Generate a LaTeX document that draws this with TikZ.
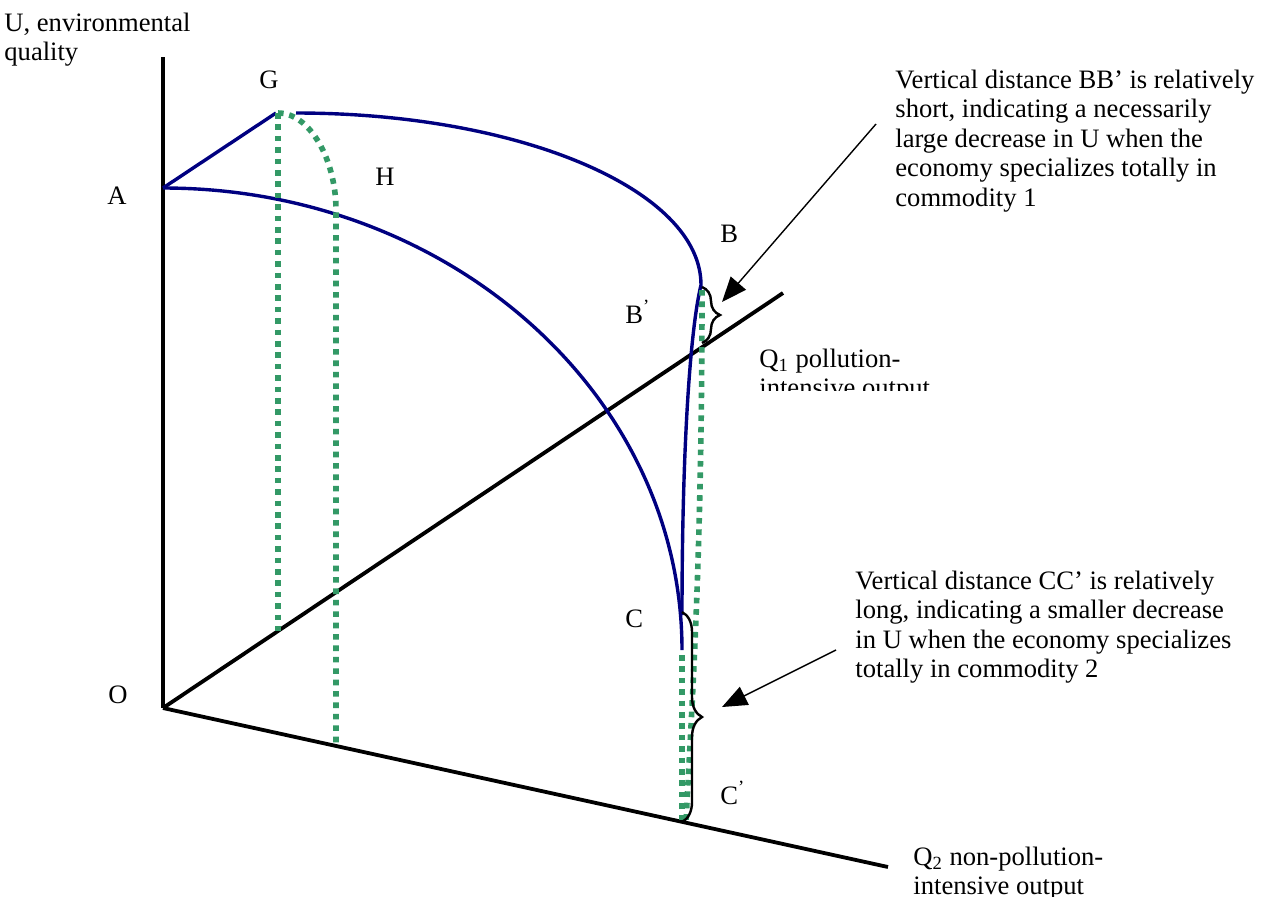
\documentclass[tikz,border=0pt]{standalone}
\usepackage{fontspec}
\setmainfont{Liberation Serif}
\usetikzlibrary{arrows.meta,decorations.pathreplacing}
\definecolor{ecInk}{HTML}{000000}
\definecolor{ecNavy}{HTML}{000080}
\definecolor{ecGreen}{HTML}{339966}
\tikzset{
  ec axis/.style={draw=ecInk, line width=1.9pt},
  ec frontier/.style={draw=ecNavy, line width=1.7pt},
  ec trace/.style={
    draw=ecGreen,
    line width=2.8pt,
    dash pattern=on 2.8pt off 2.9pt
  },
  ec brace/.style={
    draw=ecInk,
    line width=1.2pt,
    decorate,
    decoration={brace, amplitude=#1}
  },
  ec pointer/.style={
    draw=ecInk,
    line width=.7pt,
    -{Triangle[length=12.5pt,width=10pt]}
  },
  ec label/.style={font=\fontsize{13.3}{14.8}\selectfont, text=ecInk, inner sep=0pt, anchor=base west},
  ec note/.style={ec label, align=left}
}

\begin{document}
\begin{tikzpicture}[x=.5pt,y=-.5pt]
  \useasboundingbox (0,0) rectangle (1274,896);

  % axes
  \coordinate (O) at (163,708);
  \coordinate (Utop) at (163,57);
  \coordinate (Q1end) at (783,293);
  \coordinate (Q2end) at (888,867);
  \draw[ec axis] (O) -- (Utop);
  \draw[ec axis] (O) -- (Q1end);
  \draw[ec axis] (O) -- (Q2end);

  % frontiers
  \coordinate (A) at (163,188);
  \coordinate (G) at (276,113);
  \coordinate (Gr) at (296,113);
  \coordinate (B) at (701,285);
  \coordinate (C) at (682,615);
  \coordinate (Cend) at (682,650);
  \draw[ec frontier] (A) -- (G);
  \draw[ec frontier] (A) .. controls (449.6,188) and (682,394.8) .. (Cend);
  \draw[ec frontier] (Gr) .. controls (519.7,113) and (701,190) .. (B)
    .. controls (690,330) and (682,450) .. (C);

  % dotted traces
  \coordinate (Gtop) at (278,113);
  \coordinate (Gfoot) at (278,631);
  \coordinate (Hbend) at (336,210);
  \coordinate (Hfoot) at (336,746);
  \coordinate (Btop) at (702,290);
  \coordinate (Bfoot) at (686,822);
  \coordinate (Ctop) at (682,655);
  \coordinate (Cfoot) at (682,822);
  \draw[ec trace] (Gtop) -- (Gfoot);
  \draw[ec trace] (Gtop) .. controls (310,113) and (336,160) .. (Hbend) -- (Hfoot);
  \draw[ec trace] (Btop) .. controls (702,560) and (692,700) .. (Bfoot);
  \draw[ec trace] (Ctop) -- (Cfoot);

  % braces and pointers
  \draw[ec brace=9pt] (702,287) -- (702,343);
  \draw[ec brace=10pt] (682,612) -- (Cfoot);
  \coordinate (bbTail) at (876,124);
  \coordinate (bbTip) at (722,302);
  \coordinate (ccTail) at (836,650);
  \coordinate (ccTip) at (722,707);
  \draw[ec pointer] (bbTail) -- (bbTip);
  \draw[ec pointer] (ccTail) -- (ccTip);

  % labels (multi-line notes sit on their last baseline)
  \node[ec note] (Ulab) at (4,60.6) {U, environmental\\quality};
  \node[ec label] (Alab) at (107,204) {A};
  \node[ec label] (Glab) at (259,88) {G};
  \node[ec label] (Hlab) at (375,185) {H};
  \node[ec label] (Blab) at (720,242) {B};
  \node[ec label] (Bplab) at (625,323) {B\textsuperscript{’}};
  \node[ec label] (Clab) at (625,627) {C};
  \node[ec label] (Cplab) at (720,804) {C\textsuperscript{’}};
  \node[ec label] (Olab) at (108,703) {O};
  \begin{scope}
    \clip (740,330) rectangle (1000,390);
    \node[ec note] (Q1lab) at (759,396.6) {Q\textsubscript{1} pollution-\\intensive output};
  \end{scope}
  \node[ec note] (Q2lab) at (913,894.6) {Q\textsubscript{2} non-pollution-\\intensive output};
  \node[ec note] (BBnote) at (895,206.4) {Vertical distance BB’ is relatively\\short, indicating a necessarily\\large decrease in U when the\\economy specializes totally in\\commodity 1};
  \node[ec note] (CCnote) at (855,677.8) {Vertical distance CC’ is relatively\\long, indicating a smaller decrease\\in U when the economy specializes\\totally in commodity 2};
\end{tikzpicture}
\end{document}
